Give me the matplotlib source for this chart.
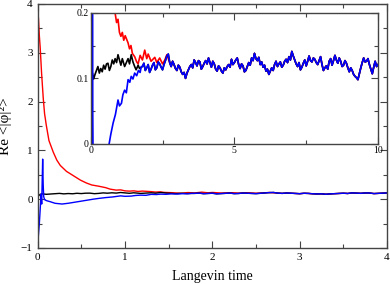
import numpy as np
import matplotlib
matplotlib.use("Agg")
import matplotlib.pyplot as plt
from matplotlib.ticker import MultipleLocator

plt.rcParams['font.family'] = ['Liberation Serif', 'DejaVu Serif']

# Early part of each run
t_red = [0.0, 0.01, 0.02, 0.03, 0.045, 0.065, 0.08, 0.1, 0.13, 0.18, 0.22, 0.26,
         0.33, 0.41, 0.49, 0.56, 0.62, 0.7, 0.78, 0.83, 0.9, 0.95, 1.0, 1.05, 1.1,
         1.15, 1.2, 1.3, 1.35, 1.4, 1.45, 1.53, 1.6, 1.65, 1.72, 1.8, 1.88, 1.95,
         2.0, 2.1, 2.23, 2.3, 2.4, 2.5, 2.58, 2.65]
red_vals = [3.92, 3.7, 3.35, 3.1, 2.6, 2.06, 1.75, 1.51, 1.2, 0.96, 0.8, 0.69,
            0.57, 0.48, 0.39, 0.33, 0.29, 0.265, 0.235, 0.205, 0.185, 0.19, 0.17,
            0.164, 0.17, 0.158, 0.165, 0.154, 0.145, 0.15, 0.138, 0.133, 0.125,
            0.122, 0.135, 0.128, 0.143, 0.13, 0.137, 0.126, 0.132, 0.124, 0.131,
            0.122, 0.128, 0.136]

t_black = [0.0, 0.01, 0.03, 0.06, 0.1, 0.15, 0.2, 0.25, 0.3, 0.35, 0.4, 0.45, 0.5,
           0.55, 0.6, 0.65, 0.7, 0.75, 0.8, 0.85, 0.9, 0.95, 1.0, 1.05, 1.1, 1.18,
           1.25, 1.3, 1.35, 1.41, 1.47, 1.53, 1.58, 1.65, 1.7]
black_vals = [0.0, 0.065, 0.1, 0.108, 0.099, 0.106, 0.112, 0.118, 0.108, 0.115,
              0.11, 0.12, 0.114, 0.122, 0.123, 0.112, 0.118, 0.128, 0.122, 0.13,
              0.124, 0.136, 0.128, 0.12, 0.13, 0.118, 0.125, 0.13, 0.122, 0.136,
              0.125, 0.118, 0.113, 0.12, 0.115]

t_blue = [0.0, 0.02, 0.04, 0.047, 0.052, 0.058, 0.064, 0.07, 0.08, 0.1, 0.14, 0.2,
          0.28, 0.35, 0.45, 0.55, 0.64, 0.7, 0.78, 0.86, 0.95, 1.0, 1.07, 1.12,
          1.18, 1.24, 1.3, 1.36, 1.41, 1.47, 1.53, 1.6, 1.66, 1.72, 1.76]
blue_vals = [-0.95, -0.5, 0.1, -0.1, 0.3, 0.82, 0.3, 0.05, -0.01, -0.03, -0.05,
             -0.085, -0.1, -0.085, -0.055, -0.025, 0.0, 0.015, 0.032, 0.045, 0.067,
             0.058, 0.062, 0.075, 0.082, 0.078, 0.098, 0.094, 0.103, 0.099, 0.108,
             0.104, 0.112, 0.109, 0.118]

# Converged tail shared by all three runs, t = 1.8 ... 10.0 in steps of 0.05
tail_vals = [0.118, 0.123, 0.112, 0.116, 0.121, 0.109, 0.114, 0.120, 0.124, 0.113,
             0.116, 0.125, 0.122, 0.117, 0.113, 0.121, 0.127, 0.134, 0.137, 0.124,
             0.118, 0.126, 0.121, 0.115, 0.112, 0.120, 0.117, 0.110, 0.106, 0.109,
             0.100, 0.108, 0.113, 0.118, 0.121, 0.116, 0.128, 0.124, 0.119, 0.127,
             0.125, 0.114, 0.118, 0.123, 0.127, 0.122, 0.131, 0.124, 0.117, 0.126,
             0.122, 0.114, 0.111, 0.119, 0.116, 0.111, 0.108, 0.116, 0.113, 0.118,
             0.121, 0.117, 0.129, 0.121, 0.124, 0.128, 0.131, 0.121, 0.115, 0.122,
             0.119, 0.110, 0.112, 0.118, 0.124, 0.120, 0.131, 0.127, 0.138, 0.130,
             0.127, 0.132, 0.121, 0.125, 0.117, 0.120, 0.111, 0.114, 0.106, 0.111,
             0.116, 0.112, 0.121, 0.126, 0.118, 0.122, 0.125, 0.117, 0.120, 0.126,
             0.129, 0.124, 0.133, 0.128, 0.141, 0.134, 0.128, 0.122, 0.118, 0.124,
             0.113, 0.117, 0.123, 0.128, 0.119, 0.126, 0.134, 0.127, 0.125, 0.131,
             0.129, 0.124, 0.121, 0.127, 0.133, 0.121, 0.112, 0.116, 0.119, 0.114,
             0.126, 0.130, 0.120, 0.127, 0.135, 0.128, 0.123, 0.131, 0.126, 0.118,
             0.120, 0.127, 0.123, 0.116, 0.110, 0.116, 0.112, 0.106, 0.103, 0.101,
             0.098, 0.107, 0.116, 0.124, 0.131, 0.125, 0.126, 0.130, 0.121, 0.114,
             0.107, 0.117, 0.126, 0.118, 0.121]
t_tail = np.linspace(1.8, 10.0, len(tail_vals))

tail = np.array(tail_vals)
t_all_red = np.concatenate([t_red, t_tail[t_tail > 2.7]])
y_all_red = np.concatenate([red_vals, tail[t_tail > 2.7]])
t_all_black = np.concatenate([t_black, t_tail])
y_all_black = np.concatenate([black_vals, tail])
t_all_blue = np.concatenate([t_blue, t_tail])
y_all_blue = np.concatenate([blue_vals, tail])

runs = [(t_all_red, y_all_red, 'red'),
        (t_all_black, y_all_black, 'black'),
        (t_all_blue, y_all_blue, 'blue')]

frame_col = '#444444'


def style_axes(ax, size):
    for s in ax.spines.values():
        s.set_color(frame_col)
        s.set_linewidth(1.0)
    ax.tick_params(which='both', direction='in', top=True, right=True,
                   colors=frame_col, labelcolor='black', labelsize=size, width=0.8)
    ax.tick_params(which='major', length=5)
    ax.tick_params(which='minor', length=3)


fig = plt.figure(figsize=(3.9, 2.84), dpi=100)

# main panel
ax = fig.add_axes([0.0964, 0.127, 0.896, 0.859])
for t, y, c in runs:
    ax.plot(t, y, color=c, lw=1.0)
ax.set_xlim(0, 4)
ax.set_ylim(-1, 4)
ax.xaxis.set_major_locator(MultipleLocator(1))
ax.xaxis.set_minor_locator(MultipleLocator(0.5))
ax.yaxis.set_major_locator(MultipleLocator(1))
ax.yaxis.set_minor_locator(MultipleLocator(0.5))
style_axes(ax, 8)
ax.set_xlabel("Langevin time", fontsize=10, labelpad=6)
ax.set_ylabel("Re <|\u03c6|\u00b2>", fontsize=11)
ax.yaxis.set_label_coords(-0.072, 0.5)

# inset, whole run
ins = fig.add_axes([0.2326, 0.493, 0.7367, 0.4623])
for t, y, c in runs:
    ins.plot(t, y, color=c, lw=1.2)
ins.set_xlim(0, 10)
ins.set_ylim(0, 0.2)
ins.xaxis.set_major_locator(MultipleLocator(5))
ins.xaxis.set_minor_locator(MultipleLocator(2.5))
ins.yaxis.set_minor_locator(MultipleLocator(0.05))
ins.set_yticks([0, 0.1, 0.2])
ins.set_yticklabels(['0', '0.1', '0.2'])
style_axes(ins, 7)
ins.tick_params(pad=1.5)

fig.savefig("out.png", dpi=100)
